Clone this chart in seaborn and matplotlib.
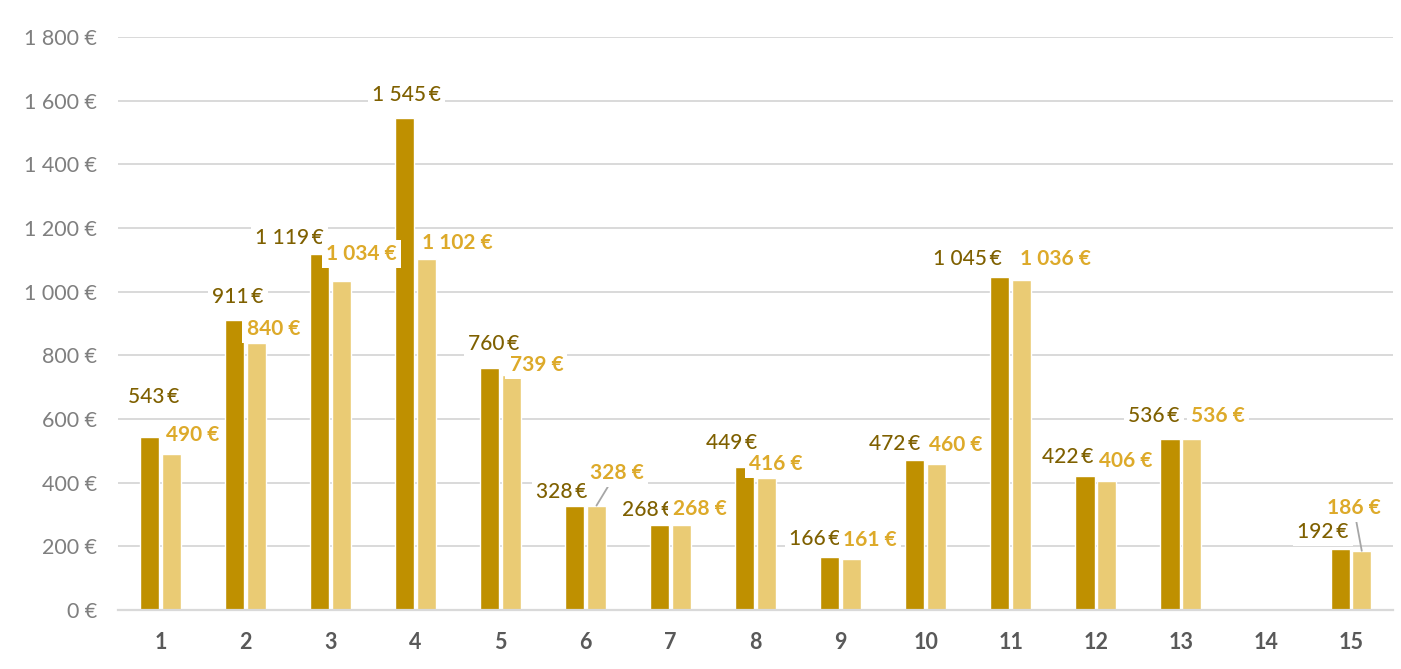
import matplotlib
matplotlib.use('Agg')
import matplotlib.pyplot as plt
import matplotlib.ticker as mticker
import pandas as pd
import numpy as np
import seaborn as sns

# données du graphique
categories = [str(i) for i in range(1, 16)]
serie_fonce = [543, 911, 1119, 1545, 760, 328, 268, 449, 166, 472, 1045, 422, 536, np.nan, 192]
serie_clair = [490, 840, 1034, 1102, 739, 328, 268, 416, 161, 460, 1036, 406, 536, np.nan, 186]
y_ticks = [0, 200, 400, 600, 800, 1000, 1200, 1400, 1600, 1800]

# couleurs
c_fonce = '#BF9000'
c_clair = '#EACB74'
txt_fonce = '#7F6000'
txt_clair = '#DDAA2A'

# décalage des étiquettes (pixels) par rapport au sommet de la barre
dx_fonce = [4, 3, -30, 2, 4, -13, -12, -13, -15, -20, -33, -17, -16, 0, -17]
dy_fonce = [40, 23, 16, 23, 24, 14, 15, 24, 18, 16, 18, 19, 23, 0, 17]
dx_clair = [21, 17, 20, 31, 25, 20, 18, 9, 18, 19, 34, 19, 26, 0, -8]
dy_clair = [19, 14, 27, 16, 10, 33, 16, 14, 19, 19, 21, 20, 23, 0, 43]
avec_trait = ['6', '15']


def fmt_euro(v, esp=" "):
    return f"{int(round(v)):,}".replace(",", " ") + esp + "€"


df = pd.DataFrame({
    'categorie': categories * 2,
    'montant': serie_fonce + serie_clair,
    'serie': ['fonce'] * len(categories) + ['clair'] * len(categories),
})

sns.set_theme(style='white')
plt.rcParams['font.family'] = ['Lato', 'DejaVu Sans']

fig = plt.figure(figsize=(14.01, 6.69), dpi=100)
ax = fig.add_axes([0.0842, 0.0882, 0.9104, 0.8565])

sns.barplot(data=df, x='categorie', y='montant', hue='serie', order=categories,
            hue_order=['fonce', 'clair'], palette=[c_fonce, c_clair], saturation=1,
            width=0.51, gap=0.12, legend=False, ax=ax, zorder=2)

ax.set_xlim(-0.5, len(categories) - 0.5)
ax.set_ylim(0, 1800)
ax.set_yticks(y_ticks)
ax.yaxis.set_major_formatter(mticker.FuncFormatter(lambda v, p: fmt_euro(v)))
ax.grid(True, axis='y', color='#D9D9D9', linewidth=1.4, zorder=0)
ax.set_axisbelow(True)
for s in ['top', 'right', 'left']:
    ax.spines[s].set_visible(False)
ax.spines['bottom'].set_color('#D9D9D9')
ax.spines['bottom'].set_linewidth(1.6)
ax.set_xlabel('')
ax.set_ylabel('')
ax.tick_params(axis='y', length=0, pad=15, labelsize=15.5, labelcolor='#7F7F7F')
ax.tick_params(axis='x', length=0, pad=16, labelsize=15.5, labelcolor='#595959')
for t in ax.get_xticklabels():
    t.set_fontweight('bold')

# étiquettes de données
conteneurs = ax.containers
params = [
    (conteneurs[0], serie_fonce, dx_fonce, dy_fonce, txt_fonce, 'medium', '\u2009'),
    (conteneurs[1], serie_clair, dx_clair, dy_clair, txt_clair, 'bold', ' '),
]
for k, (cont, valeurs, dxs, dys, couleur, poids, esp) in enumerate(params):
    for bar in cont.patches:
        xc = bar.get_x() + bar.get_width() / 2
        i = int(round(xc))  # indice de la catégorie
        v = valeurs[i]
        if np.isnan(v):
            continue
        arrow = None
        if k == 1 and categories[i] in avec_trait:
            arrow = dict(arrowstyle='-', color='#A6A6A6', lw=1.3, shrinkA=0, shrinkB=0)
        ax.annotate(fmt_euro(v, esp), xy=(xc, v), xytext=(dxs[i], dys[i]),
                    textcoords='offset pixels', ha='center', va='center',
                    fontsize=15, color=couleur, fontweight=poids, zorder=5,
                    bbox=dict(boxstyle='square,pad=0.2', fc='white', ec='none'),
                    arrowprops=arrow, annotation_clip=False)

fig.savefig('out.png', dpi=100, facecolor='white')
